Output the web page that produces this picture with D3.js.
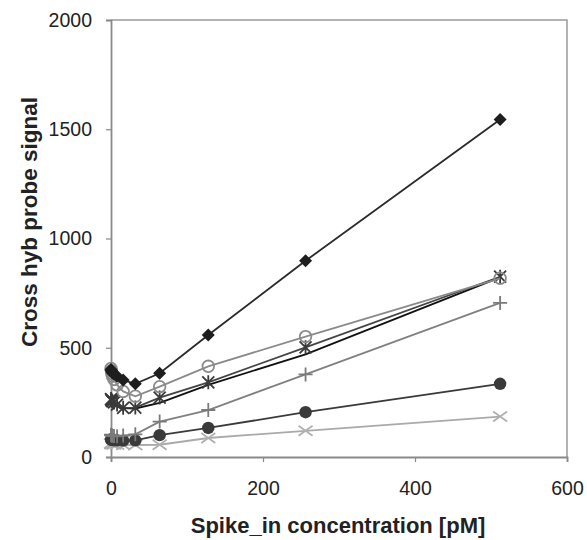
<!DOCTYPE html>
<html>
<head>
<meta charset="utf-8">
<script src="https://cdn.jsdelivr.net/npm/d3@7"></script>
<style>
  html, body { margin: 0; padding: 0; background: #fff; }
  svg { display: block; }
  text { font-family: "Liberation Sans", Arial, sans-serif; fill: #222; }
</style>
</head>
<body>
<svg id="chart" width="587" height="540"></svg>
<script>
// Spike-in concentrations (pM)
const concentrations = [0, 0.5, 1, 2, 4, 8, 16, 32, 64, 128, 256, 512];

// Cross-hybridisation probe signal, one array per probe
const probeDiamond  = [400, 395, 390, 385, 380, 370, 352, 335, 383, 558, 898, 1545];
const probeCircle   = [405, 395, 382, 370, 355, 330, 300, 278, 322, 415, 551, 818];
const probeAsterisk = [265, 262, 258, 255, 250, 240, 225, 226, 272, 342, 502, 825];
const probeLine     = [250, 248, 245, 242, 238, 232, 224, 222, 248, 330, 470, 822];
const probePlus     = [102, 100, 98, 97, 96, 95, 98, 104, 162, 215, 378, 705];
const probeDot      = [80, 80, 79, 78, 77, 76, 75, 76, 100, 133, 205, 335];
const probeCross    = [62, 61, 60, 59, 58, 57, 56, 55, 56, 87, 120, 185];

const xTicks = [0, 200, 400, 600];
const yTicks = [0, 500, 1000, 1500, 2000];

const series = [
  { values: probeCross,    line: "#aaaaaa", marker: "cross",    color: "#b0b0b0" },
  { values: probeDot,      line: "#3a3a3a", marker: "dot",      color: "#3a3a3a" },
  { values: probePlus,     line: "#808080", marker: "plus",     color: "#7a7a7a" },
  { values: probeLine,     line: "#111111", marker: null,       color: "#111111" },
  { values: probeAsterisk, line: "#444444", marker: "asterisk", color: "#3a3a3a" },
  { values: probeCircle,   line: "#8a8a8a", marker: "ring",     color: "#8a8a8a" },
  { values: probeDiamond,  line: "#2a2a2a", marker: "diamond",  color: "#1e1e1e" }
];

const svg = d3.select("#chart");
const plotLeft = 111, plotRight = 567, plotTop = 20, plotBottom = 457;

const x = d3.scaleLinear().domain([0, 600]).range([plotLeft, plotRight]);
const y = d3.scaleLinear().domain([0, 2000]).range([plotBottom, plotTop]);

// Plot frame (top and right edges)
svg.append("path")
  .attr("d", `M${plotLeft},${plotTop}H${plotRight}V${plotBottom}`)
  .attr("fill", "none").attr("stroke", "#9a9a9a").attr("stroke-width", 1.5);

// Axes
const xAxis = svg.append("g").attr("transform", `translate(0,${plotBottom})`)
  .call(d3.axisBottom(x).tickValues(xTicks).tickSize(5).tickPadding(19).tickFormat(d3.format("d")));
const yAxis = svg.append("g").attr("transform", `translate(${plotLeft},0)`)
  .call(d3.axisLeft(y).tickValues(yTicks).tickSize(5).tickPadding(14).tickFormat(d3.format("d")));
[xAxis, yAxis].forEach(g => {
  g.select(".domain").attr("stroke", "#8a8a8a").attr("stroke-width", 1.8);
  g.selectAll(".tick line").attr("stroke", "#8a8a8a").attr("stroke-width", 1.2);
  g.selectAll(".tick text").style("font-size", "19.5px").style("font-family", "'Liberation Sans', Arial, sans-serif").attr("fill", "#222");
});

// Axis titles
svg.append("text")
  .attr("x", 338).attr("y", 533)
  .attr("text-anchor", "middle")
  .style("font-size", "22px").style("font-weight", "bold")
  .text("Spike_in concentration [pM]");
svg.append("text")
  .attr("transform", `translate(37,222) rotate(-90)`)
  .attr("text-anchor", "middle")
  .style("font-size", "22.5px").style("font-weight", "bold")
  .text("Cross hyb probe signal");

const line = d3.line().x((d, i) => x(concentrations[i])).y(d => y(d));

// Marker glyphs
function drawMarker(g, type, color, cx, cy) {
  const m = g.append("g").attr("transform", `translate(${cx},${cy})`);
  if (type === "diamond") {
    m.append("path").attr("d", "M0,-6.5L6.5,0L0,6.5L-6.5,0Z").attr("fill", color);
  } else if (type === "ring") {
    m.append("circle").attr("r", 5.8).attr("fill", "none").attr("stroke", color).attr("stroke-width", 1.8);
  } else if (type === "dot") {
    m.append("circle").attr("r", 6.2).attr("fill", color);
  } else if (type === "asterisk") {
    m.append("path").attr("d", "M-6,-6L6,6M-6,6L6,-6M0,-7V7")
      .attr("stroke", color).attr("stroke-width", 1.8).attr("fill", "none");
  } else if (type === "plus") {
    m.append("path").attr("d", "M-7,0H7M0,-7V7")
      .attr("stroke", color).attr("stroke-width", 1.8).attr("fill", "none");
  } else if (type === "cross") {
    m.append("path").attr("d", "M-7,-5L7,5M-7,5L7,-5")
      .attr("stroke", color).attr("stroke-width", 1.8).attr("fill", "none");
  }
}

series.forEach(s => {
  const g = svg.append("g");
  g.append("path").datum(s.values)
    .attr("d", line)
    .attr("fill", "none")
    .attr("stroke", s.line)
    .attr("stroke-width", 1.8);
  if (s.marker) {
    s.values.forEach((v, i) => drawMarker(g, s.marker, s.color, x(concentrations[i]), y(v)));
  }
});
</script>
</body>
</html>
